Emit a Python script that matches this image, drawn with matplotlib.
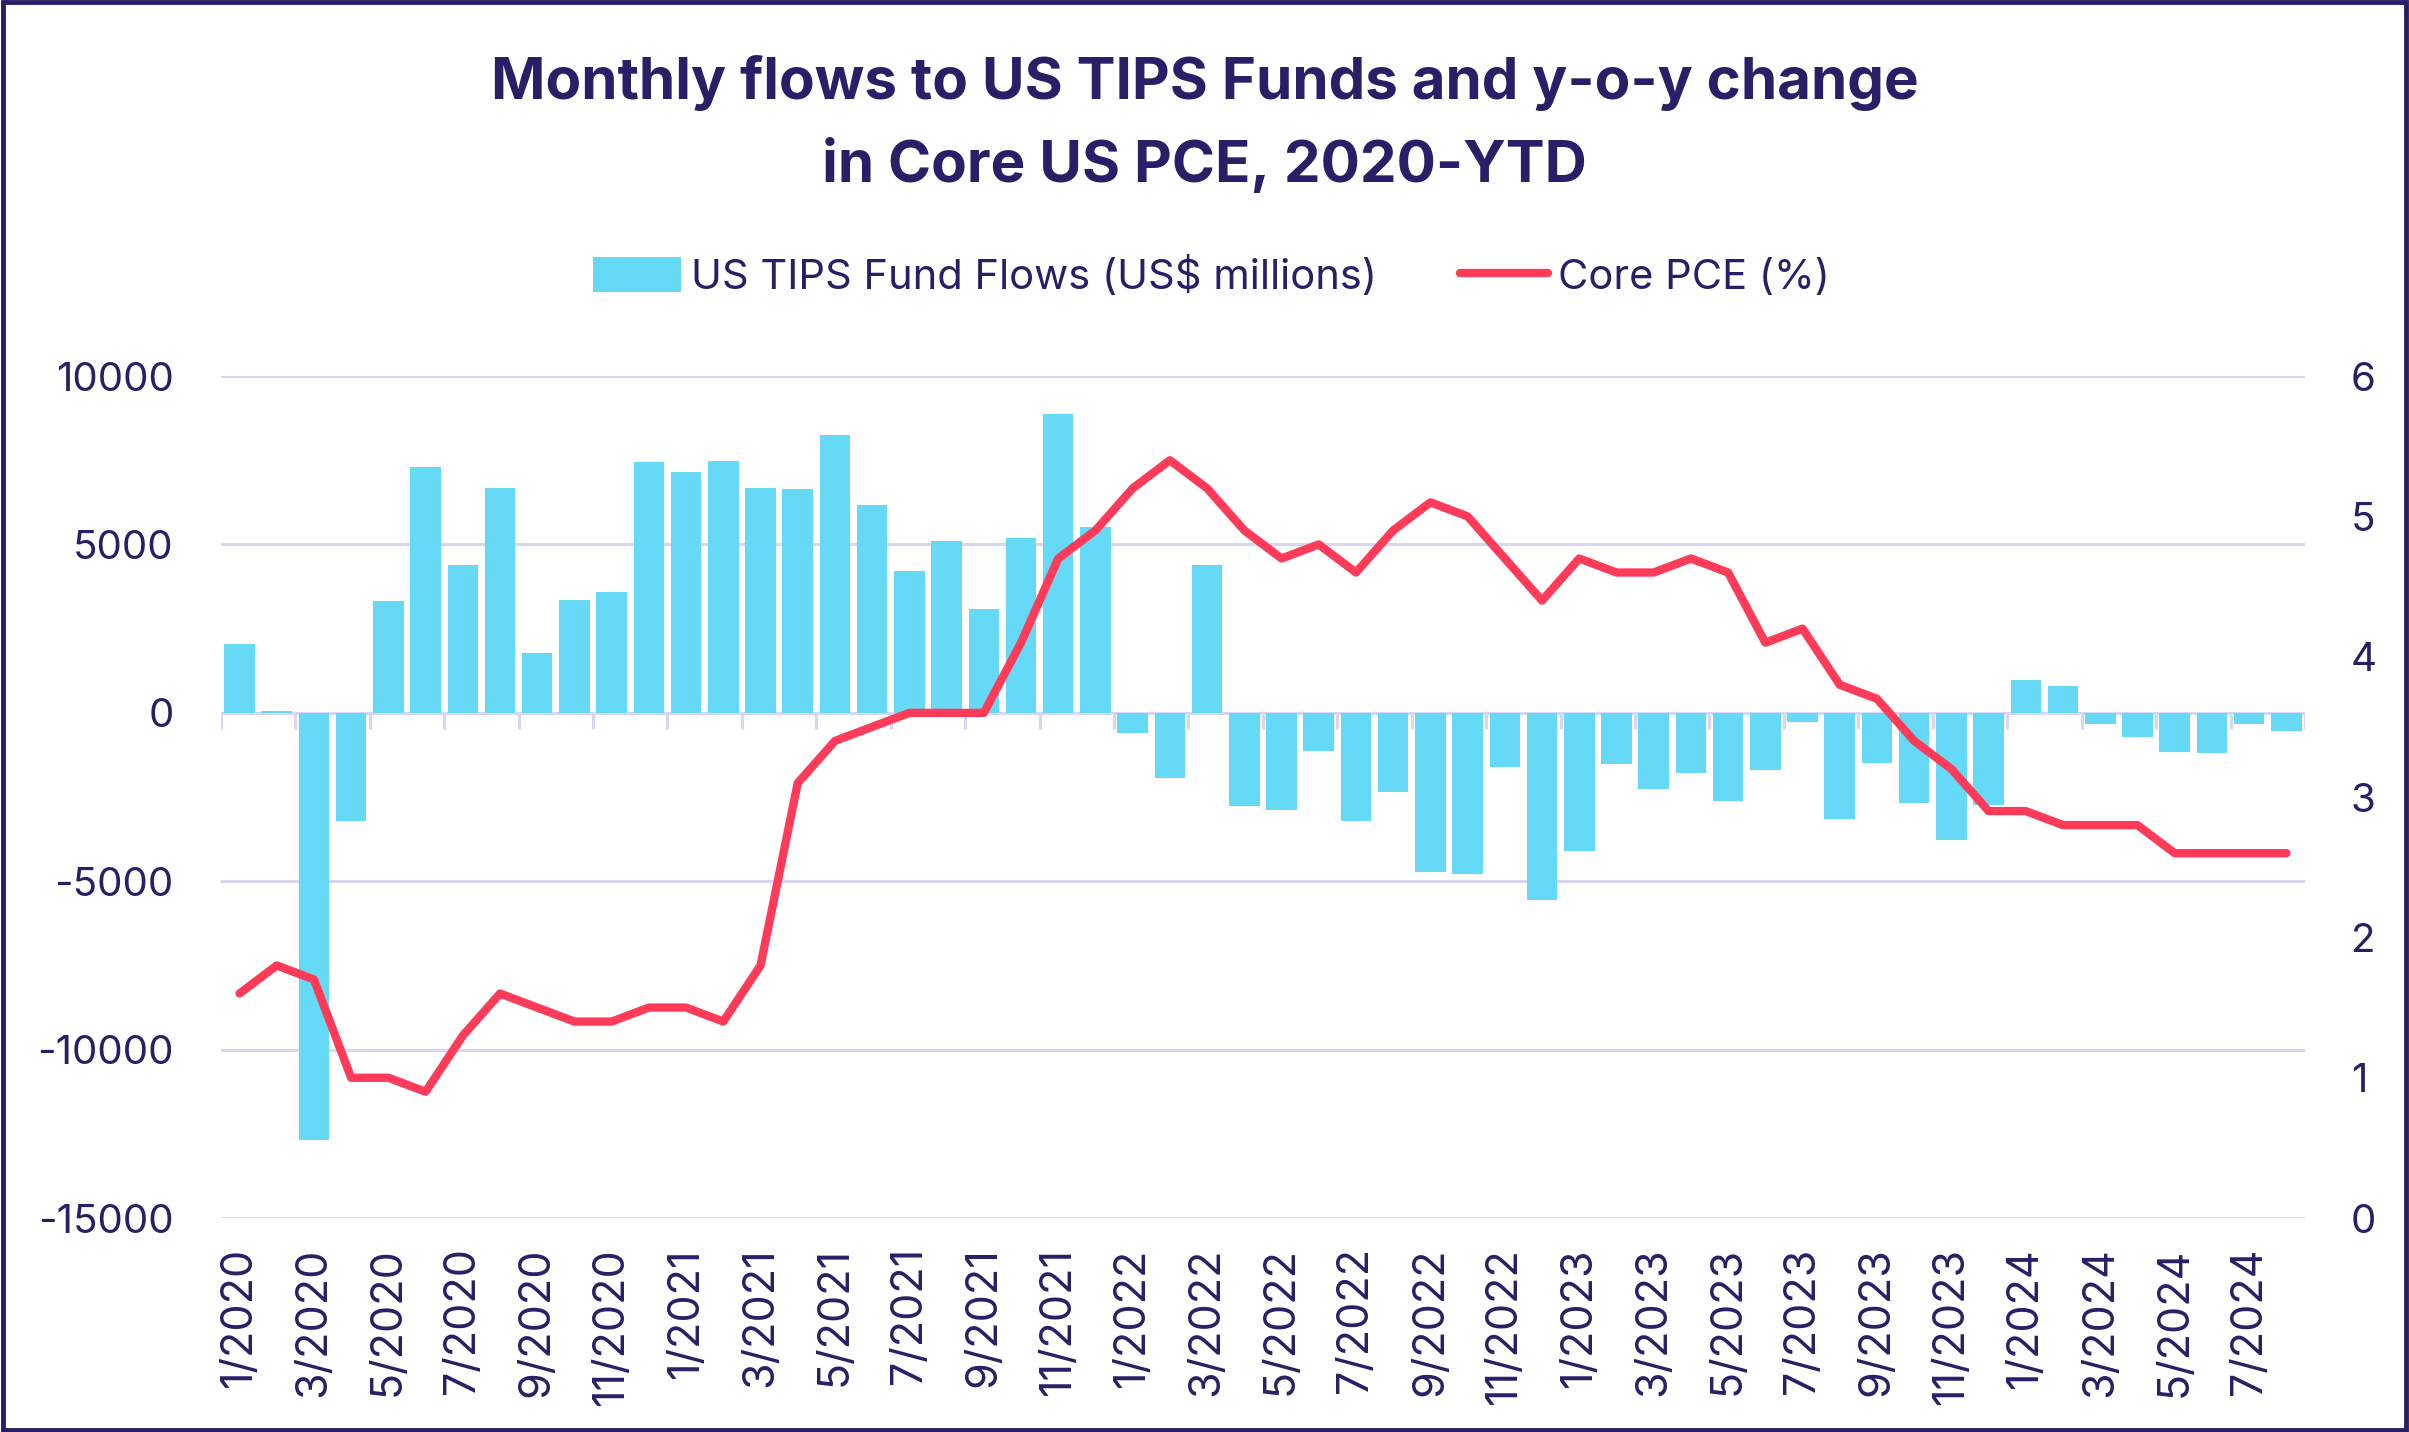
import matplotlib
matplotlib.use("Agg")
import matplotlib.pyplot as plt
from matplotlib.patches import Rectangle
from matplotlib.lines import Line2D
from matplotlib.patches import Patch
import numpy as np

months = [f"{m}/{y}" for y in range(2020, 2025) for m in range(1, 13)][:56]

flows = [2050, 50, -12680, -3210, 3310, 7290, 4390, 6690, 1790, 3360, 3600, 7440,
         7150, 7490, 6670, 6640, 8240, 6160, 4200, 5090, 3070, 5200, 8870, 5510,
         -610, -1930, 4400, -2760, -2880, -1120, -3220, -2340, -4740, -4780, -1610, -5570,
         -4110, -1520, -2250, -1790, -2630, -1710, -270, -3160, -1490, -2680, -3790, -2730,
         970, 790, -320, -720, -1160, -1200, -320, -530]

core_pce = [1.6, 1.8, 1.7, 1.0, 1.0, 0.9, 1.3, 1.6, 1.5, 1.4, 1.4, 1.5,
            1.5, 1.4, 1.8, 3.1, 3.4, 3.5, 3.6, 3.6, 3.6, 4.1, 4.7, 4.9,
            5.2, 5.4, 5.2, 4.9, 4.7, 4.8, 4.6, 4.9, 5.1, 5.0, 4.7, 4.4,
            4.7, 4.6, 4.6, 4.7, 4.6, 4.1, 4.2, 3.8, 3.7, 3.4, 3.2, 2.9,
            2.9, 2.8, 2.8, 2.8, 2.6, 2.6, 2.6, 2.6]

left_ticks = [-15000, -10000, -5000, 0, 5000, 10000]
right_ticks = [0, 1, 2, 3, 4, 5, 6]

NAVY = "#2a1e66"
BAR = "#66d9f7"
LINE = "#ff3b5a"
GRID = "#d9d6f2"
FONT = "Inter"

plt.rcParams["font.family"] = [FONT, "DejaVu Sans"]

fig = plt.figure(figsize=(24.09, 14.32), dpi=100)
ax = fig.add_axes([0.0917, 0.1494, 0.8651, 0.5880])
x = np.arange(len(months))

ax.set_axisbelow(True)
for t in left_ticks:
    ax.axhline(t, color=GRID, lw=2.2, zorder=0)
ax.bar(x, flows, width=0.82, color=BAR, zorder=2)
edges = np.arange(-0.5, len(months), 2)
ax.vlines(edges, -480, 0, color=GRID, lw=2.2, zorder=1)

ax.set_xlim(-0.5, len(months) - 0.5)
ax.set_ylim(-15000, 10000)
ax.set_yticks(left_ticks)
ax.set_yticklabels([str(t) for t in left_ticks])
ax.set_xticks(x[::2])
ax.set_xticklabels(months[::2], rotation=90)
ax.tick_params(axis="y", length=0, pad=34, labelsize=29, labelcolor=NAVY)
ax.tick_params(axis="x", length=0, pad=21, labelsize=31, labelcolor=NAVY)
for s in ax.spines.values():
    s.set_visible(False)

ax2 = ax.twinx()
ax2.plot(x, core_pce, color=LINE, lw=6, solid_capstyle="round", solid_joinstyle="round", zorder=3)
ax2.set_ylim(0, 6)
ax2.set_yticks(right_ticks)
ax2.tick_params(axis="y", length=0, pad=33, labelsize=29, labelcolor=NAVY)
for s in ax2.spines.values():
    s.set_visible(False)

fig.text(0.5, 0.942, "Monthly flows to US TIPS Funds and y-o-y change", ha="center", va="center",
         fontsize=42, fontweight="bold", color=NAVY)
fig.text(0.5, 0.884, "in Core US PCE, 2020-YTD", ha="center", va="center",
         fontsize=42, fontweight="bold", color=NAVY)

handles = [Patch(facecolor=BAR, edgecolor="none"),
           Line2D([0], [0], color=LINE, lw=6, solid_capstyle="round")]
leg = fig.legend(handles, ["US TIPS Fund Flows (US$ millions)", "Core PCE (%)"],
                 loc="center", bbox_to_anchor=(0.503, 0.807), ncol=2, frameon=False,
                 fontsize=30, handlelength=2.1, handleheight=0.9, handletextpad=0.25,
                 columnspacing=2.0, labelcolor=NAVY)

fig.patches.append(Rectangle((0.0012, 0.0015), 0.9976, 0.997, transform=fig.transFigure,
                             fill=False, edgecolor=NAVY, lw=3.5))

fig.savefig("out.png", dpi=100)
